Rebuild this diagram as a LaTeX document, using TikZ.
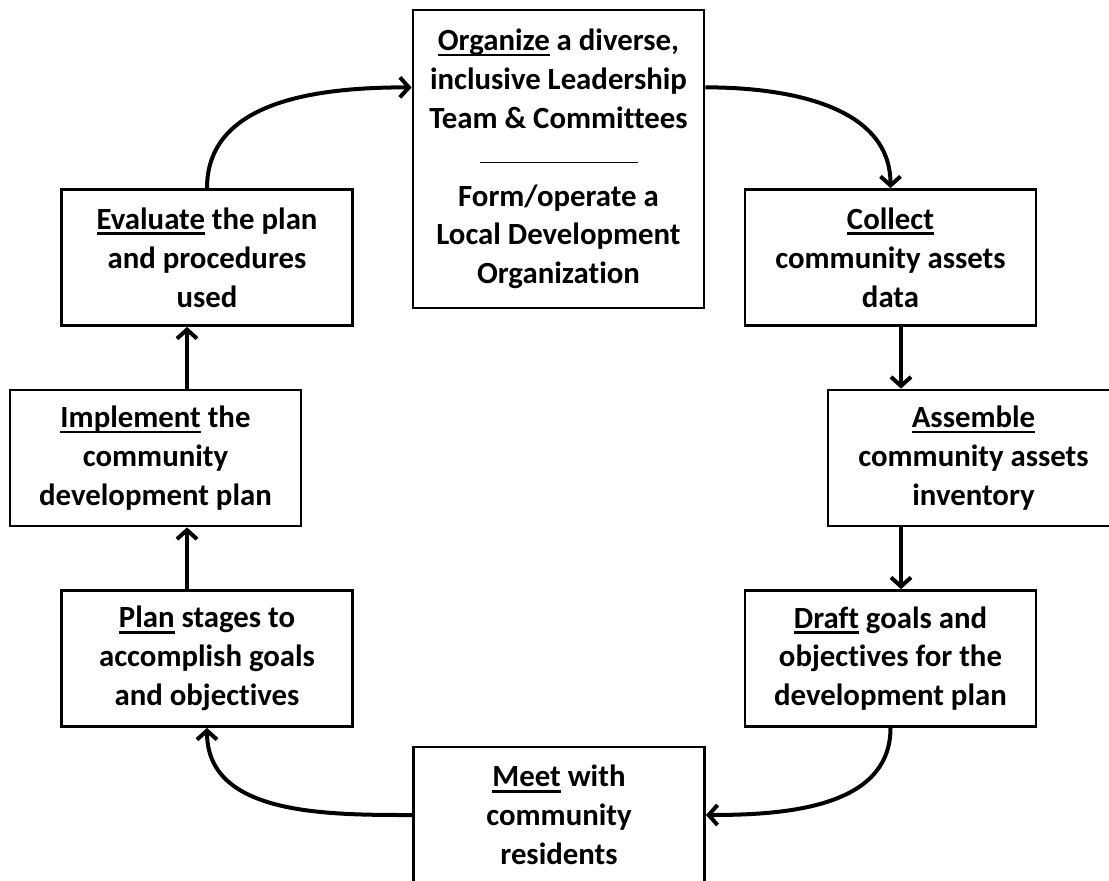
\documentclass[tikz,border=0pt]{standalone}
\usepackage{fontspec}
\setmainfont{Carlito}[Ligatures=NoCommon]
\usetikzlibrary{arrows.meta,positioning}

\newcommand{\actword}[1]{\setbox0\hbox{#1}\rlap{\rule[-2.8pt]{\wd0}{1.3pt}}\box0\relax}

\begin{document}
\begin{tikzpicture}[x=0.5pt,y=0.5pt,
            stage/.style={draw,rectangle,line width=1.4pt,minimum width=145.5pt,minimum height=68pt,inner sep=0pt,align=center,font=\fontsize{15.4}{19.4}\selectfont\bfseries},
            link/.style={line width=2pt,-{Straight Barb[length=4.5pt,width=10pt]}}
          ]
          \useasboundingbox (0,0) rectangle (1109,-880);
          \clip (0,0) rectangle (1109,-880);

          %stages
          \node[stage,minimum height=149pt] (organize) at (558.5,-159) {\actword{Organize} a diverse,\\inclusive Leadership\\Team \& Committees\\\rule[2pt]{79pt}{0.6pt}\\Form/operate a\\Local Development\\Organization};
          \node[stage] (collect) at (890.5,-257.5) {\actword{Collect}\\community assets\\data};
          \node[stage] (assemble) at (973.5,-458) {\actword{Assemble}\\community assets\\inventory};
          \node[stage] (draft) at (890.5,-658.5) {\actword{Draft} goals and\\objectives for the\\development plan};
          \node[stage] (meet) at (559,-815) {\actword{Meet} with\\community\\residents};
          \node[stage] (plan) at (207,-658.5) {\actword{Plan} stages to\\accomplish goals\\and objectives};
          \node[stage] (implement) at (155.5,-458) {\actword{Implement} the\\community\\development plan};
          \node[stage] (evaluate) at (207,-257.5) {\actword{Evaluate} the plan\\and procedures\\used};

          %cycle
          \draw[link] (evaluate.north) to[out=90,in=180] (organize.154);
          \draw[link] (organize.26) to[out=0,in=90] (collect.north);
          \draw[link] ([xshift=5.25pt]collect.south) -- ([xshift=5.25pt]collect.south |- assemble.north);
          \draw[link] ([xshift=-36.25pt]assemble.south) -- ([xshift=-36.25pt]assemble.south |- draft.north);
          \draw[link] (draft.south) to[out=-90,in=0] (meet.east);
          \draw[link] (meet.west) to[out=180,in=-90] (plan.south);
          \draw[link] ([xshift=-10pt]plan.north) -- ([xshift=-10pt]plan.north |- implement.south);
          \draw[link] ([xshift=-10pt]evaluate.south |- implement.north) -- ([xshift=-10pt]evaluate.south);
      \end{tikzpicture}
\end{document}
